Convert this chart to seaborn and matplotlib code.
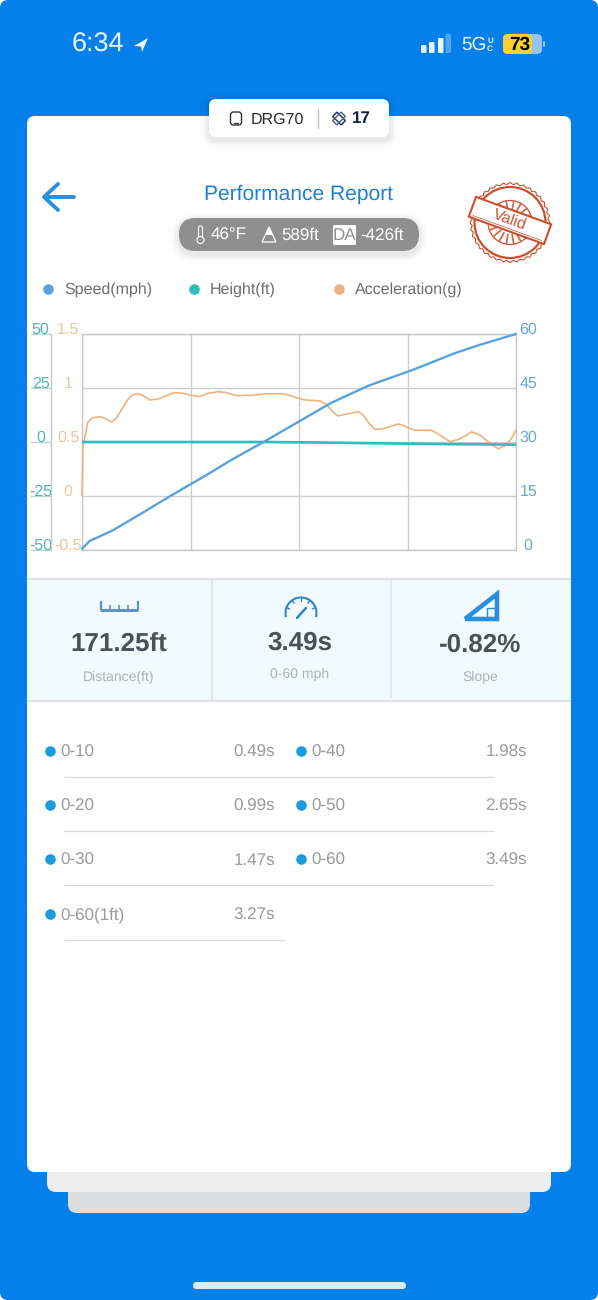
import numpy as np
import pandas as pd
import matplotlib
matplotlib.use('Agg')
import matplotlib.pyplot as plt
from matplotlib.patches import FancyBboxPatch, Circle, Polygon, Rectangle, Arc
from matplotlib.transforms import Affine2D
import seaborn as sns

# chart values
speed_t = [0, 0.02, 0.06, 0.15, 0.25, 0.49, 0.72, 0.99, 1.2, 1.47, 1.75, 2.0, 2.3, 2.65, 3.0, 3.2, 3.49]
speed_mph = [0.3, 1.0, 2.5, 3.9, 5.5, 10.4, 15.2, 20.6, 25, 30.2, 35.8, 40.8, 45.6, 49.9, 54.7, 57, 60]

height_t = [0, 0.5, 1.0, 1.5, 2.0, 2.5, 3.0, 3.49]
height_ft = [0, 0, 0, 0, -0.3, -0.7, -1.0, -1.2]

accel_t = [0, 0.008, 0.022, 0.048, 0.088, 0.15, 0.195, 0.236, 0.276, 0.316, 0.37, 0.41, 0.45, 0.49,
           0.544, 0.611, 0.678, 0.745, 0.812, 0.879, 0.946, 1.013, 1.093, 1.16, 1.241, 1.361, 1.495,
           1.602, 1.67, 1.713, 1.793, 1.914, 1.967, 2.008, 2.056, 2.128, 2.222, 2.262, 2.308, 2.356,
           2.423, 2.544, 2.597, 2.664, 2.812, 2.878, 2.959, 3.039, 3.133, 3.2, 3.28, 3.347, 3.401,
           3.455, 3.49]
accel_g = [0, 0.46, 0.537, 0.688, 0.725, 0.734, 0.713, 0.685, 0.719, 0.796, 0.895, 0.938, 0.947, 0.929,
           0.889, 0.898, 0.929, 0.957, 0.951, 0.932, 0.92, 0.951, 0.966, 0.957, 0.929, 0.932, 0.947,
           0.947, 0.932, 0.914, 0.889, 0.88, 0.849, 0.79, 0.741, 0.759, 0.78, 0.75, 0.673, 0.617,
           0.623, 0.667, 0.648, 0.611, 0.607, 0.565, 0.503, 0.528, 0.595, 0.565, 0.488, 0.438, 0.463,
           0.534, 0.611]

height_ticks = [-50, -25, 0, 25, 50]
accel_ticks = [-0.5, 0, 0.5, 1, 1.5]
accel_labels = ['-0.5', '0', '0.5', '1', '1.5']
speed_ticks = [0, 15, 30, 45, 60]

legend_names = ['Speed(mph)', 'Height(ft)', 'Acceleration(g)']
stat_values = ['171.25ft', '3.49s', '-0.82%']
stat_names = ['Distance(ft)', '0-60 mph', 'Slope']
split_names = ['0-10', '0-20', '0-30', '0-60(1ft)', '0-40', '0-50', '0-60']
split_times = ['0.49s', '0.99s', '1.47s', '3.27s', '1.98s', '2.65s', '3.49s']

BLUE = '#0580EA'
SPEED_C = '#5AA2DC'
HEIGHT_C = '#2FBDBD'
ACCEL_C = '#EFB27E'
STAMP = '#C9502F'
W, H = 598, 1300

sns.set_theme(style='white')
plt.rcParams['font.family'] = ['Liberation Sans', 'DejaVu Sans']
plt.rcParams['text.hinting'] = 'no_hinting'
plt.rcParams['text.hinting_factor'] = 1

fig = plt.figure(figsize=(W / 100, H / 100), dpi=100, facecolor='white')

# everything around the chart goes on a pixel canvas
ui = fig.add_axes([0, 0, 1, 1])
ui.set_xlim(0, W)
ui.set_ylim(H, 0)
ui.axis('off')


def box(x0, y0, x1, y1, r, color, z=1, **kw):
    p = FancyBboxPatch((x0 + r, y0 + r), x1 - x0 - 2 * r, y1 - y0 - 2 * r,
                       boxstyle=f'round,pad={r},rounding_size={r}', fc=color, ec='none', zorder=z, **kw)
    ui.add_patch(p)
    return p


def shadow(x0, y0, x1, y1, r, dy, z):
    for grow, a in [(9, 0.012), (6, 0.018), (4, 0.025), (2, 0.03)]:
        box(x0 - grow, y0 - grow + dy, x1 + grow, y1 + grow + dy, r + grow, 'black', z=z, alpha=a)


def txt(x, y, s, size, color, ha='center', va='center', z=6, **kw):
    return ui.text(x, y, s, fontsize=size, color=color, ha=ha, va=va, zorder=z, **kw)


def seg(xs, ys, color, lw, z=6, **kw):
    ui.plot(xs, ys, color=color, lw=lw, zorder=z, solid_capstyle=kw.pop('cap', 'round'), **kw)


# phone screen
box(0, 0, W, H, 8, BLUE, z=0)
box(68, 1150, 530, 1213, 9, '#DCDDDF', z=1)
box(47, 1130, 551, 1192, 9, '#EEEEEE', z=1.5)
box(27, 116, 571, 1172, 8, 'white', z=2)
box(193, 1282, 406, 1289, 3.5, '#DDE9F3', z=2)

# status bar
txt(72, 44.5, '6:34', 19.5, '#EAF5FF', ha='left')
ui.add_patch(Polygon([[148, 38], [134, 46], [141, 46.5], [142, 52]], fc='#EAF5FF', ec='none', zorder=6))
for bx, top, c in zip([421, 429, 438, 445.5], [45, 42, 38, 34], ['#EAF5FF', '#EAF5FF', '#EAF5FF', '#4FA6EE']):
    box(bx, top, bx + 5.5, 53, 1.2, c, z=6)
txt(461, 45, '5G', 13.5, '#EAF5FF', ha='left')
txt(490, 40.5, 'U', 6, '#EAF5FF', fontweight='bold')
txt(490, 49, 'C', 6, '#EAF5FF', fontweight='bold')
box(503, 34, 542, 54, 5, '#93C6F1', z=5)
box(503, 34, 532, 54, 5, '#FBD02C', z=5.5)
box(543, 41, 545, 47, 1, '#93C6F1', z=5)
txt(520, 44.5, '73', 14, 'black', fontweight='bold')

# device badge
shadow(209, 99, 389, 137, 7, 3, 2.5)
box(209, 99, 389, 137, 7, 'white', z=3)
ui.add_patch(FancyBboxPatch((230.5, 112), 11, 13, boxstyle='round,pad=0,rounding_size=3',
                            fc='white', ec='#333333', lw=1, zorder=6))
seg([234, 238], [122.5, 122.5], '#333333', 0.9)
txt(251, 119.5, 'DRG70', 11.8, '#2B2B2B', ha='left')
seg([317.5, 317.5], [109, 128], '#BDBDBD', 0.9)
for ang, c in [(45, '#1D2B55'), (-45, '#4A5F8A')]:
    tr = Affine2D().rotate_deg_around(339, 118.5, ang) + ui.transData
    ui.add_patch(Rectangle((333, 115.5), 12, 6, fc='none', ec=c, lw=1, transform=tr, zorder=6))
txt(352, 118.5, '17', 12, '#16224C', ha='left', fontweight='bold')

# header
seg([45, 74], [197, 197], '#2B8FDF', 2.8)
seg([58, 44, 58], [184, 197, 210], '#2B8FDF', 2.8, solid_joinstyle='round')
txt(299, 194.5, 'Performance Report', 15.4, '#2280CF')

# conditions pill
shadow(179, 218, 419, 251, 16.5, 3, 2.5)
box(179, 218, 419, 251, 16.5, '#8F8F8F', z=3)
ui.add_patch(FancyBboxPatch((198.5, 226), 4, 13, boxstyle='round,pad=0,rounding_size=2',
                            fc='none', ec='white', lw=0.8, zorder=6))
ui.add_patch(Circle((200.5, 240), 3.5, fc='#8F8F8F', ec='white', lw=0.8, zorder=6.5))
txt(211, 235.5, '46°F', 12.1, 'white', ha='left')
ui.add_patch(Polygon([[262, 242], [269, 227], [276, 242]], fc='#8F8F8F', ec='white', lw=0.9, zorder=6))
ui.add_patch(Polygon([[265.5, 235], [269, 227], [272.5, 235]], fc='white', ec='none', zorder=6.5))
txt(281, 235.5, '589ft', 12.1, 'white', ha='left')
box(333, 225, 356, 245, 1.5, 'white', z=5)
txt(344.5, 235.5, 'DA', 12, '#8F8F8F')
txt(360, 235.5, '-426ft', 12.1, 'white', ha='left')

# stamp
cx, cy = 510, 222.5
ang = np.linspace(0, 2 * np.pi, 73)
rr = np.where(np.arange(73) % 2 == 0, 40, 38)
ui.add_patch(Polygon(np.c_[cx + rr * np.cos(ang), cy + rr * np.sin(ang)], fc='none', ec=STAMP, lw=0.8, zorder=4))
ui.add_patch(Circle((cx, cy), 35.5, fc='none', ec=STAMP, lw=1.6, zorder=4))
ui.add_patch(Circle((cx, cy), 22, fc='none', ec=STAMP, lw=0.9, zorder=4))
for a in np.arange(0, 360, 20):
    ca, sa = np.cos(np.radians(a)), np.sin(np.radians(a))
    seg([cx + 12 * ca, cx + 21 * ca], [cy + 12 * sa, cy + 21 * sa], STAMP, 1.3, z=4, alpha=0.85)
tr = Affine2D().rotate_deg_around(cx, cy - 2, 20) + ui.transData
ui.add_patch(Rectangle((cx - 40, cy - 12.5), 80, 21, fc='white', ec=STAMP, lw=1.5, transform=tr, zorder=5))
seg([cx - 37, cx + 37], [cy + 6, cy + 6], STAMP, 0.5, z=5.5, cap='butt', transform=tr)
txt(cx, cy - 2.5, 'Valid', 11.5, STAMP, rotation=-20, rotation_mode='anchor')

# legend row
for lx, name, c in zip([48, 194, 339], legend_names, [SPEED_C, HEIGHT_C, ACCEL_C]):
    ui.scatter([lx], [288.5], s=58, color=c, linewidths=0, zorder=6)
    txt(lx + 16, 290, name, 11.5, '#6E6E6E', ha='left')

# stats panel
ui.add_patch(Rectangle((27, 579), 544, 122, fc='#F1FBFD', ec='none', zorder=3))
seg([27, 571], [579, 579], '#DCE6EA', 1.6, cap='butt')
seg([27, 571], [701, 701], '#DCE6EA', 1.6, cap='butt')
seg([211.5, 211.5], [580, 700], '#DCE6EA', 1.1, cap='butt')
seg([391, 391], [580, 698], '#DCE6EA', 1.1, cap='butt')
for sx, sy, val, name, ny in zip([119, 300, 480], [645.5, 642.5, 645.5], stat_values, stat_names, [677.5, 674.5, 677.5]):
    txt(sx, sy, val, 18.5, '#47525A', fontweight='bold')
    txt(sx, ny, name, 9.8, '#ABB2B6')

# ruler icon
seg([100.5, 100.5], [601, 610], '#5E93C8', 1.6, cap='butt')
seg([137.5, 137.5], [601, 610], '#5E93C8', 1.6, cap='butt')
seg([100, 138], [609.5, 609.5], '#5E93C8', 2.2, cap='butt')
for rx in [110, 119, 128]:
    seg([rx, rx], [605, 609], '#5E93C8', 1.2, cap='butt')
# gauge icon
ui.add_patch(Arc((301, 613), 31, 31, theta1=165, theta2=375, ec='#2F85C6', lw=1.5, zorder=6))
for a in [200, 235, 270, 305, 340]:
    ca, sa = np.cos(np.radians(a)), np.sin(np.radians(a))
    seg([301 + 12 * ca, 301 + 15 * ca], [613 + 12 * sa, 613 + 15 * sa], '#2F85C6', 1)
seg([297, 306], [618, 608], '#2F85C6', 1.8)
# slope icon
seg([465, 497, 497, 465], [619, 594, 619, 619], '#2B8FDF', 3.3, solid_joinstyle='miter', cap='butt')
ui.add_patch(Rectangle((487, 608), 8, 10, fc='none', ec='#2B8FDF', lw=1, zorder=6))

# split times, left column then right column
split_rows = [752, 806.5, 860.5, 915]
for i, (name, val) in enumerate(zip(split_names, split_times)):
    col = 0 if i < 4 else 1
    ty = split_rows[i] if i < 4 else split_rows[i - 4]
    dot_x, text_x, val_x = [(50, 60.5, 275), (301, 311.5, 527)][col]
    ui.scatter([dot_x], [ty - 1.5], s=58, color='#1A9BE0', linewidths=0, zorder=6)
    txt(text_x, ty, name, 12.6, '#9A9A9A', ha='left')
    txt(val_x, ty, val, 12.6, '#9A9A9A', ha='right')
for ly, x1 in zip([777, 831, 885, 940], [494, 494, 494, 285]):
    seg([64, x1], [ly, ly], '#D8D8D8', 0.9, cap='butt')

# chart
speed_df = pd.DataFrame({'t': speed_t, 'v': speed_mph})
height_df = pd.DataFrame({'t': height_t, 'v': height_ft})
accel_df = pd.DataFrame({'t': accel_t, 'v': accel_g})

pl, pr, pt, pb = 82, 516, 334, 550
ax = fig.add_axes([pl / W, 1 - pb / H, (pr - pl) / W, (pb - pt) / H], zorder=5)
ax.patch.set_alpha(0)
ax_h = ax.twinx()
ax_s = ax.twinx()

sns.lineplot(data=accel_df, x='t', y='v', ax=ax, color=ACCEL_C, lw=1.2, errorbar=None, clip_on=False)
sns.lineplot(data=height_df, x='t', y='v', ax=ax_h, color=HEIGHT_C, lw=1.9, errorbar=None)
sns.lineplot(data=speed_df, x='t', y='v', ax=ax_s, color=SPEED_C, lw=1.7, errorbar=None, clip_on=False)

t_max = speed_t[-1]
ax.set_xlim(0, t_max)
ax.set_ylim(-0.5, 1.5)
ax_h.set_ylim(-50, 50)
ax_s.set_ylim(0, 60)
ax.set_xticks(np.linspace(0, t_max, 5))
ax.tick_params(axis='x', length=0, labelbottom=False)
ax.grid(True, color='#CDCDCD', lw=1.0)
ax.set_axisbelow(True)
for a in [ax, ax_h, ax_s]:
    a.set_xlabel('')
    a.set_ylabel('')
# only the base axes keeps a frame, under its own line
for sp in ax.spines.values():
    sp.set_color('#C8C8C8')
    sp.set_linewidth(1.0)
    sp.set_zorder(1)
for sp in ax_s.spines.values():
    sp.set_visible(False)
for name in ['top', 'bottom', 'right']:
    ax_h.spines[name].set_visible(False)
ax_h.spines['left'].set_color('#C8C8C8')
ax_h.spines['left'].set_linewidth(1.0)

ax.set_yticks(accel_ticks, accel_labels)
ax.tick_params(axis='y', length=0, pad=10, labelsize=11.8, labelcolor='#E8C7A2')

ax_h.yaxis.tick_left()
ax_h.spines['left'].set_position(('outward', 22.3))
ax_h.set_yticks(height_ticks, [str(v) for v in height_ticks])
ax_h.tick_params(axis='y', length=15, width=0.9, color='#BFD3D3', pad=-7.5, labelsize=11.8, labelcolor='#55B5B5')

ax_s.set_yticks(speed_ticks, [str(v) for v in speed_ticks])
ax_s.tick_params(axis='y', length=0, pad=8.8, labelsize=11.8, labelcolor='#6BA7CF')

for lab in ax.get_yticklabels() + ax_h.get_yticklabels() + ax_s.get_yticklabels():
    lab.set_ha('center')
    lab.set_va('baseline')

fig.savefig('out.png', dpi=100, facecolor='white')
